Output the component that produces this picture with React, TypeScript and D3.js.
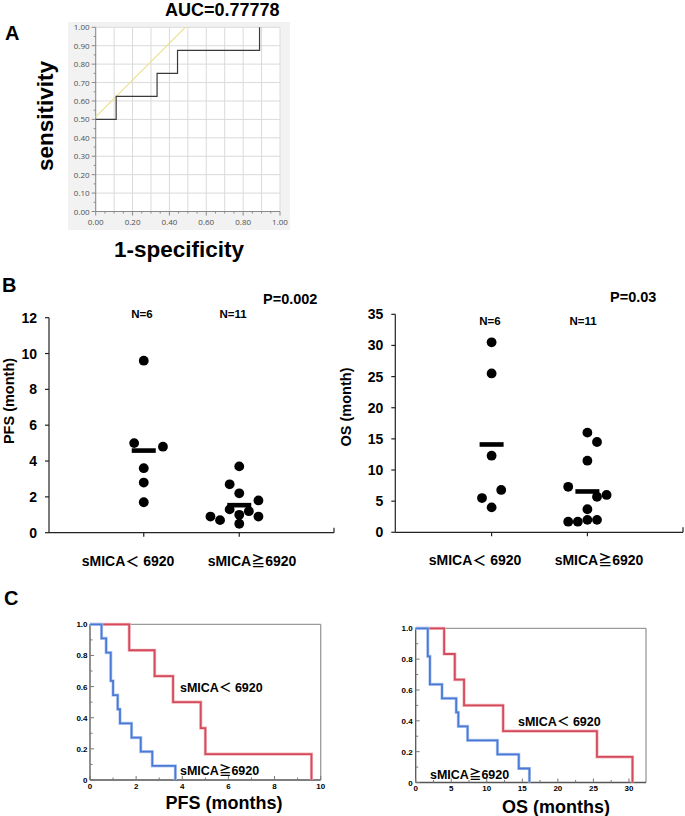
import React from 'react';
import * as d3 from 'd3';

// ---------- data ----------
const rocFpr = [0, 0.111, 0.333, 0.444, 0.889];
const rocTpr = [0.5, 0.625, 0.75, 0.875, 1.0];
const tangentX = [0, 0.486];
const tangentY = [0.514, 1.0];
const aucLabel = 'AUC=0.77778';
const rocTicks = [0, 0.1, 0.2, 0.3, 0.4, 0.5, 0.6, 0.7, 0.8, 0.9, 1.0];
const rocXLabels = [0, 0.2, 0.4, 0.6, 0.8, 1.0];

const groupLabels = ['sMICA＜ 6920', 'sMICA≧6920'];
const nLabels = ['N=6', 'N=11'];
const pfsLow = [9.6, 5.0, 4.8, 3.6, 2.8, 1.7];
const pfsHigh = [3.7, 2.7, 2.2, 1.8, 1.3, 1.2, 1.0, 0.9, 0.7, 0.9, 0.5];
const osLow = [30.5, 25.5, 12.3, 6.8, 5.5, 4.0];
const osHigh = [16.0, 14.5, 11.5, 7.3, 6.0, 5.7, 3.7, 2.0, 2.0, 1.7, 1.7];
// beeswarm slot index of each dot (side-by-side order)
const pfsLowSlot = [0, -1, 2, 0, 0, 0];
const pfsHighSlot = [0, -1, 0, 2, -1, 1, 0, -3, -2, 2, 0];
const osLowSlot = [0, 0, 0, 1, -1, 0];
const osHighSlot = [0, 1, 0, -2, 2, 1, 0, 0, 1, -2, -1];
const pfsTicks = [0, 2, 4, 6, 8, 10, 12];
const osTicks = [0, 5, 10, 15, 20, 25, 30, 35];
const pLabels = ['P=0.002', 'P=0.03'];

const kmYTicks = [0, 0.2, 0.4, 0.6, 0.8, 1.0];
const kmYLabels = ['0', '0.2', '0.4', '0.6', '0.8', '1.0'];
const pfsKmTicks = [0, 2, 4, 6, 8, 10];
const osKmTicks = [0, 5, 10, 15, 20, 25, 30];

const RED = '#d44c5c';
const BLUE = '#4a7ad6';
const FONT = '"Liberation Sans", Arial, sans-serif';
const CJK = '"Noto Sans CJK JP", "Noto Sans CJK SC", sans-serif';

// ---------- helpers ----------
function kmSteps(times: number[]): [number, number][] {
  const sorted = [...times].sort((a, b) => a - b);
  const n = sorted.length;
  const pts: [number, number][] = [[0, 1]];
  let s = 1;
  let atRisk = n;
  const uniq = Array.from(new Set(sorted));
  for (const t of uniq) {
    const d = sorted.filter((v) => v === t).length;
    pts.push([t, s]);
    s = s * (1 - d / atRisk);
    atRisk -= d;
    pts.push([t, s]);
  }
  return pts;
}

function richLabel(s: string) {
  const parts: { t: string; cjk: boolean }[] = [];
  for (const ch of s) {
    const cjk = ch.charCodeAt(0) > 255;
    const last = parts[parts.length - 1];
    if (last && last.cjk === cjk) last.t += ch;
    else parts.push({ t: ch, cjk });
  }
  return parts.map((p, i) =>
    p.cjk ? (
      <tspan key={i} fontFamily={CJK} fontWeight="bold">{p.t}</tspan>
    ) : (
      <tspan key={i}>{p.t}</tspan>
    )
  );
}

// ---------- panel A ----------
function ROC() {
  const x = d3.scaleLinear().domain([0, 1]).range([95.7, 280]);
  const y = d3.scaleLinear().domain([0, 1]).range([211.5, 27.3]);
  const stepLine = d3
    .line<number>()
    .x((_, i) => x(rocFpr[i]))
    .y((_, i) => y(rocTpr[i]))
    .curve(d3.curveStepAfter);
  const minor = d3.range(0, 1.001, 0.05);
  return (
    <g>
      <rect x={68} y={22} width={222} height={208} fill="#f2f2f2" />
      <rect x={x(0)} y={y(1)} width={x(1) - x(0)} height={y(0) - y(1)} fill="#ffffff" />
      {rocTicks.map((t) => (
        <g key={'g' + t}>
          <line x1={x(t)} x2={x(t)} y1={y(0)} y2={y(1)} stroke="#dadada" strokeWidth={1} />
          <line x1={x(0)} x2={x(1)} y1={y(t)} y2={y(t)} stroke="#dadada" strokeWidth={1} />
        </g>
      ))}
      <line x1={x(0)} x2={x(0)} y1={y(0)} y2={y(1)} stroke="#8a8a8a" />
      <line x1={x(0)} x2={x(1)} y1={y(0)} y2={y(0)} stroke="#8a8a8a" />
      {minor.map((t, i) => (
        <g key={'m' + i}>
          <line x1={x(0) - (i % 2 === 0 ? 4 : 2)} x2={x(0)} y1={y(t)} y2={y(t)} stroke="#8a8a8a" />
          <line x1={x(t)} x2={x(t)} y1={y(0)} y2={y(0) + (i % 4 === 0 ? 4 : 2)} stroke="#8a8a8a" />
        </g>
      ))}
      {rocTicks.map((t) => (
        <text key={'yl' + t} x={x(0) - 6} y={y(t) + 3} textAnchor="end" fontSize={8} fill="#505050" fontFamily='"Open Sans", sans-serif'>
          {t.toFixed(2)}
        </text>
      ))}
      {rocXLabels.map((t) => (
        <text key={'xl' + t} x={x(t)} y={y(0) + 13} textAnchor="middle" fontSize={8} fill="#505050" fontFamily='"Open Sans", sans-serif'>
          {t.toFixed(2)}
        </text>
      ))}
      <line x1={x(tangentX[0])} y1={y(tangentY[0])} x2={x(tangentX[1])} y2={y(tangentY[1])} stroke="#ece38e" strokeWidth={1.2} />
      <path d={stepLine(rocFpr) || ''} fill="none" stroke="#3a3a3a" strokeWidth={1.2} />
      <text x={165} y={16} fontSize={18} fontWeight="bold" fontFamily={FONT}>{aucLabel}</text>
      <text x={5} y={40} fontSize={20} fontWeight="bold" fontFamily={FONT}>A</text>
      <text transform="translate(53,116) rotate(-90)" textAnchor="middle" fontSize={22.5} fontWeight="bold" fontFamily={FONT}>sensitivity</text>
      <text x={179} y={257} textAnchor="middle" fontSize={22.5} fontWeight="bold" fontFamily={FONT}>1-specificity</text>
    </g>
  );
}

// ---------- panel B ----------
type DotProps = {
  axisX: number; axisEnd: number; y0: number; yTop: number; yMax: number; ticks: number[];
  catX: number[]; groups: number[][]; slots: number[][]; yLabel: string; yLabelX: number; yLabelY: number;
  nY: number; nX: number[]; pText: string; pX: number; pY: number; catLabelY: number; catLabelX: number[];
};

function DotPlot(p: DotProps) {
  const y = d3.scaleLinear().domain([0, p.yMax]).range([p.y0, p.yTop]);
  const xb = d3.scaleBand<number>().domain([0, 1]).range([p.catX[0] - 48, p.catX[1] + 48]);
  const slotW = 9.6;
  const r = 4.9;
  return (
    <g fontFamily={FONT} fontWeight="bold">
      <line x1={p.axisX} x2={p.axisX} y1={p.y0} y2={p.yTop} stroke="#222" strokeWidth={1.2} />
      <line x1={p.axisX} x2={p.axisEnd} y1={p.y0} y2={p.y0} stroke="#222" strokeWidth={1.2} />
      <line x1={p.axisEnd} x2={p.axisEnd} y1={p.y0} y2={p.y0 - 5} stroke="#222" strokeWidth={1.2} />
      {p.ticks.map((t) => (
        <g key={t}>
          <line x1={p.axisX - 4} x2={p.axisX} y1={y(t)} y2={y(t)} stroke="#222" strokeWidth={1.2} />
          <text x={p.axisX - 12} y={y(t) + 5} textAnchor="end" fontSize={14}>{t}</text>
        </g>
      ))}
      {p.groups.map((vals, gi) => {
        const cx = (xb(gi) || 0) + xb.bandwidth() / 2;
        const m = d3.mean(vals) || 0;
        return (
          <g key={gi}>
            <line x1={cx} x2={cx} y1={p.y0} y2={p.y0 + 4} stroke="#222" strokeWidth={1.2} />
            {vals.map((v, i) => (
              <circle key={i} cx={cx + p.slots[gi][i] * slotW} cy={y(v)} r={r} fill="#000" />
            ))}
            <rect x={cx - 12} y={y(m) - 2.3} width={24} height={4.6} fill="#000" />
            <text x={p.nX[gi]} y={p.nY} textAnchor="middle" fontSize={11.5}>{nLabels[gi]}</text>
            <text x={p.catLabelX[gi]} y={p.catLabelY} textAnchor="middle" fontSize={14}>{richLabel(groupLabels[gi])}</text>
          </g>
        );
      })}
      <text x={p.pX} y={p.pY} fontSize={14.5}>{p.pText}</text>
      <text transform={`translate(${p.yLabelX},${p.yLabelY}) rotate(-90)`} textAnchor="middle" fontSize={14.5}>{p.yLabel}</text>
    </g>
  );
}

// ---------- panel C ----------
type KMProps = {
  x0: number; x1: number; xMax: number; yB: number; yT: number; data: number[][]; ticks: number[]; minorStep: number;
  labelRight: number; xTitle: string; xTitleX: number; xTitleY: number;
  lowLabel: [number, number]; highLabel: [number, number];
};

function KM(p: KMProps) {
  const x = d3.scaleLinear().domain([0, p.xMax]).range([p.x0, p.x1]);
  const y = d3.scaleLinear().domain([0, 1]).range([p.yB, p.yT]);
  const line = d3.line<[number, number]>().x((d) => x(d[0])).y((d) => y(d[1]));
  const minorX = d3.range(0, p.xMax + 0.001, p.minorStep);
  const minorY = d3.range(0, 1.001, 0.1);
  return (
    <g fontFamily={FONT} fontWeight="bold">
      <line x1={x(0)} x2={p.x1} y1={y(1)} y2={y(1)} stroke="#9a9a9a" strokeWidth={1.3} />
      <line x1={p.x1} x2={p.x1} y1={y(1)} y2={y(0)} stroke="#9a9a9a" strokeWidth={1.3} />
      <line x1={x(0)} x2={x(0)} y1={y(0)} y2={y(1)} stroke="#555" strokeWidth={1.3} />
      <line x1={x(0)} x2={p.x1} y1={y(0)} y2={y(0)} stroke="#555" strokeWidth={1.3} />
      {minorY.map((t, i) => (
        <line key={'my' + i} x1={x(0)} x2={x(0) + (i % 2 === 0 ? 4 : 2.5)} y1={y(t)} y2={y(t)} stroke="#777" />
      ))}
      {minorX.map((t, i) => (
        <line key={'mx' + i} x1={x(t)} x2={x(t)} y1={y(0)} y2={y(0) - (i % 2 === 0 ? 4 : 2.5)} stroke="#777" />
      ))}
      {kmYTicks.map((t, i) => (
        <text key={'yl' + t} x={p.labelRight} y={y(t) + 3} textAnchor="end" fontSize={8}>{kmYLabels[i]}</text>
      ))}
      {p.ticks.map((t) => (
        <text key={'xl' + t} x={x(t)} y={y(0) + 8.5} textAnchor="middle" fontSize={8}>{t}</text>
      ))}
      <path d={line(kmSteps(p.data[0])) || ''} fill="none" stroke="#f3b8bf" strokeWidth={3.2} />
      <path d={line(kmSteps(p.data[0])) || ''} fill="none" stroke={RED} strokeWidth={1.8} />
      <path d={line(kmSteps(p.data[1])) || ''} fill="none" stroke="#b9cdf2" strokeWidth={3.2} />
      <path d={line(kmSteps(p.data[1])) || ''} fill="none" stroke={BLUE} strokeWidth={1.8} />
      <text x={p.lowLabel[0]} y={p.lowLabel[1]} fontSize={12.5}>{richLabel(groupLabels[0])}</text>
      <text x={p.highLabel[0]} y={p.highLabel[1]} fontSize={12.5}>{richLabel(groupLabels[1])}</text>
      <text x={p.xTitleX} y={p.xTitleY} textAnchor="middle" fontSize={18}>{p.xTitle}</text>
    </g>
  );
}

export default function App() {
  return (
    <svg width={685} height={816} style={{ position: 'absolute', left: 0, top: 0, background: '#fff' }}>
      <rect x={0} y={0} width={685} height={816} fill="#fff" />
      <ROC />
      <text x={2} y={292} fontSize={20} fontWeight="bold" fontFamily={FONT}>B</text>
      <DotPlot
        axisX={49} axisEnd={334} y0={532.7} yTop={317.7} yMax={12} ticks={pfsTicks}
        catX={[144, 239]} groups={[pfsLow, pfsHigh]} slots={[pfsLowSlot, pfsHighSlot]}
        yLabel="PFS (month)" yLabelX={14} yLabelY={401} nY={318} nX={[142, 233]}
        pText={pLabels[0]} pX={263} pY={304} catLabelY={566} catLabelX={[128, 252]}
      />
      <DotPlot
        axisX={395.3} axisEnd={683} y0={532.3} yTop={314.3} yMax={35} ticks={osTicks}
        catX={[491.7, 587.3]} groups={[osLow, osHigh]} slots={[osLowSlot, osHighSlot]}
        yLabel="OS (month)" yLabelX={351} yLabelY={407} nY={325} nX={[490, 583]}
        pText={pLabels[1]} pX={610} pY={302} catLabelY={565} catLabelX={[475, 599]}
      />
      <text x={4} y={605} fontSize={20} fontWeight="bold" fontFamily={FONT}>C</text>
      <KM
        x0={90} x1={320.7} xMax={10} yB={780} yT={624.3} data={[pfsLow, pfsHigh]} ticks={pfsKmTicks} minorStep={1}
        labelRight={87.5} xTitle="PFS (months)" xTitleX={224} xTitleY={809}
        lowLabel={[180, 692]} highLabel={[180, 775]}
      />
      <KM
        x0={415.7} x1={646} xMax={32.4} yB={782.5} yT={628.3} data={[osLow, osHigh]} ticks={osKmTicks} minorStep={2.5}
        labelRight={412.7} xTitle="OS (months)" xTitleX={556} xTitleY={812.5}
        lowLabel={[518, 726]} highLabel={[430, 779]}
      />
    </svg>
  );
}
